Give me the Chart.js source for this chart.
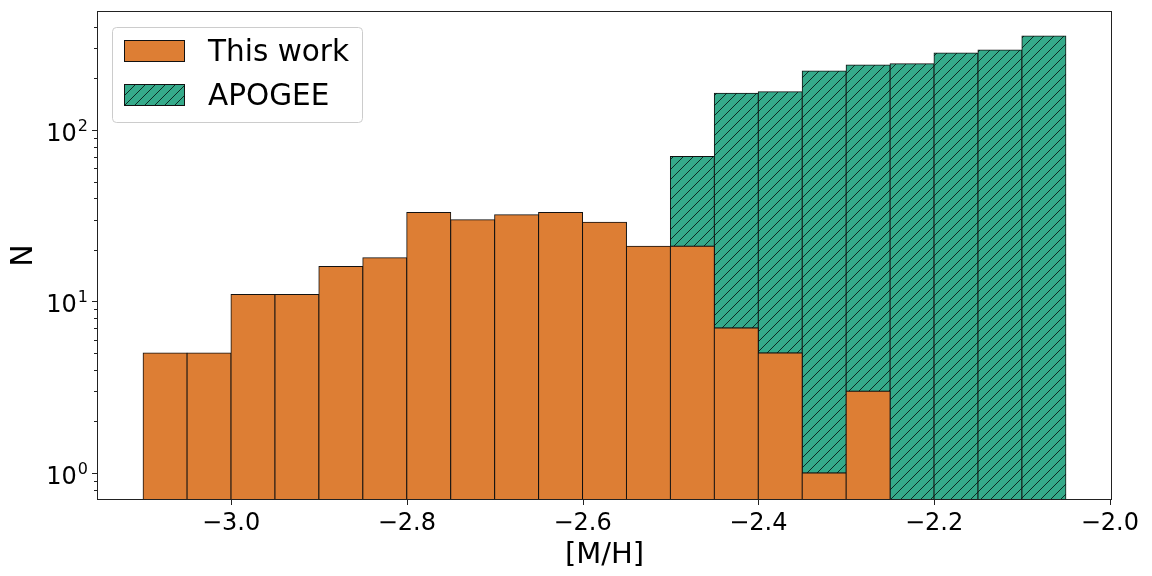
<!DOCTYPE html>
<html>
<head>
<meta charset="utf-8">
<script src="https://cdn.jsdelivr.net/npm/chart.js@4"></script>
<style>
  html, body { margin: 0; padding: 0; background: #fff; }
  #wrap { width: 1152px; height: 576px; }
</style>
</head>
<body>
<div id="wrap"><canvas id="hist" width="1152" height="576"></canvas></div>
<script>
// bin centres of the [M/H] histogram (bin width 0.05)
const binCenters = [-3.075, -3.025, -2.975, -2.925, -2.875, -2.825, -2.775, -2.725, -2.675, -2.625,
                    -2.575, -2.525, -2.475, -2.425, -2.375, -2.325, -2.275, -2.225, -2.175, -2.125, -2.075];
const thisWork = [5, 5, 11, 11, 16, 18, 33, 30, 32, 33, 29, 21, 21, 7, 5, 1, 3, null, null, null, null];
// stacked on top of "This work"
const apogee = [null, null, null, null, null, null, null, null, null, null, null, null,
                49, 157, 162, 220, 236, 243, 281, 293, 353];
const xTicks = [-3.0, -2.8, -2.6, -2.4, -2.2, -2.0];
const yTicks = [0.8, 0.9, 1, 2, 3, 4, 5, 6, 7, 8, 9, 10, 20, 30, 40, 50, 60, 70, 80, 90, 100, 200, 300, 400];
const labels = ['This work', 'APOGEE'];

const ORANGE = '#dd7e34';
const GREEN = '#35aa8a';
const FONT = "'DejaVu Sans', sans-serif";

function makeHatch(bg){
    var s = 10;
    var c = document.createElement('canvas');
    c.width = s; c.height = s;
    var g = c.getContext('2d');
    g.fillStyle = bg;
    g.fillRect(0, 0, s, s);
    g.strokeStyle = 'rgba(0,0,0,0.75)';
    g.lineWidth = 1;
    g.beginPath();
    g.moveTo(-1, s + 1); g.lineTo(s + 1, -1);
    g.moveTo(-1, 1); g.lineTo(1, -1);
    g.moveTo(s - 1, s + 1); g.lineTo(s + 1, s - 1);
    g.stroke();
    return g.createPattern(c, 'repeat');
}
const hatch = makeHatch(GREEN);

function isDecade(v){
    var l = Math.log10(v);
    return Math.abs(l - Math.round(l)) < 1e-9;
}

// tick marks, y tick labels (10^n), frame and legend
const decor = {
    id: 'decor',
    afterDraw(chart){
        var ctx = chart.ctx;
        var a = chart.chartArea;
        var xs = chart.scales.x, ys = chart.scales.y;
        ctx.save();
        ctx.strokeStyle = '#222';
        ctx.lineWidth = 1;
        ctx.strokeRect(a.left + 0.5, a.top + 0.5, a.right - a.left - 1, a.bottom - a.top - 1);
        ctx.beginPath();
        xs.ticks.forEach(t=>{
            var px = Math.round(xs.getPixelForValue(t.value)) + 0.5;
            ctx.moveTo(px, a.bottom);
            ctx.lineTo(px, a.bottom + 5);
        });
        ys.ticks.forEach(t=>{
            var py = Math.round(ys.getPixelForValue(t.value)) + 0.5;
            var len = isDecade(t.value) ? 5 : 3;
            ctx.moveTo(a.left, py);
            ctx.lineTo(a.left - len, py);
        });
        ctx.stroke();

        ctx.fillStyle = '#000';
        ctx.textAlign = 'right';
        ctx.textBaseline = 'alphabetic';
        ys.ticks.forEach(t=>{
            if (!isDecade(t.value)) return;
            var py = ys.getPixelForValue(t.value);
            var e = String(Math.round(Math.log10(t.value)));
            var right = a.left - 9;
            ctx.font = '16px ' + FONT;
            var ew = ctx.measureText(e).width;
            ctx.fillText(e, right, py + 1);
            ctx.font = '24px ' + FONT;
            ctx.fillText('10', right - ew - 1, py + 11);
        });

        // legend
        var lx = 112.5, ly = 27.5, lw = 250, lh = 95, r = 4;
        ctx.beginPath();
        ctx.moveTo(lx + r, ly);
        ctx.arcTo(lx + lw, ly, lx + lw, ly + lh, r);
        ctx.arcTo(lx + lw, ly + lh, lx, ly + lh, r);
        ctx.arcTo(lx, ly + lh, lx, ly, r);
        ctx.arcTo(lx, ly, lx + lw, ly, r);
        ctx.closePath();
        ctx.fillStyle = 'rgba(255,255,255,0.8)';
        ctx.fill();
        ctx.strokeStyle = '#cccccc';
        ctx.stroke();

        var fills = [ORANGE, hatch];
        ctx.font = '29.5px ' + FONT;
        ctx.textAlign = 'left';
        labels.forEach((lab, i)=>{
            var py = 40 + i * 44;
            ctx.fillStyle = fills[i];
            ctx.fillRect(124, py, 60, 21);
            ctx.strokeStyle = '#111';
            ctx.strokeRect(124.5, py + 0.5, 60, 21);
            ctx.fillStyle = '#000';
            ctx.fillText(lab, 208, py + 21);
        });
        ctx.restore();
    }
};

const ctx = document.getElementById('hist').getContext('2d');
const chart = new Chart(ctx, {
    type: 'bar',
    data: {
        datasets: [
            {
                label: labels[0],
                data: binCenters.map((x, i)=>({x: x, y: thisWork[i]})),
                backgroundColor: ORANGE,
                borderColor: '#111',
                borderWidth: 1,
                borderSkipped: false,
                inflateAmount: 0.5
            },
            {
                label: labels[1],
                data: binCenters.map((x, i)=>({x: x, y: apogee[i]})),
                backgroundColor: hatch,
                borderColor: '#111',
                borderWidth: 1,
                borderSkipped: false,
                inflateAmount: 0.5
            }
        ]
    },
    options: {
        responsive: false,
        animation: false,
        events: [],
        categoryPercentage: 1,
        barPercentage: 1,
        layout: { padding: { left: 0, top: 11, right: 40, bottom: 0 } },
        plugins: {
            legend: { display: false },
            tooltip: { enabled: false }
        },
        scales: {
            x: {
                type: 'linear',
                stacked: true,
                offset: false,
                min: -3.1525,
                max: -1.9975,
                afterBuildTicks: (s)=>{ s.ticks = xTicks.map(v=>({value: v})); },
                afterFit: (s)=>{ s.height = 76; s.paddingLeft = 0; s.paddingRight = 0; },
                grid: { display: false, drawTicks: false },
                border: { display: false },
                ticks: {
                    autoSkip: false,
                    maxRotation: 0,
                    padding: 9,
                    color: '#000',
                    font: { family: FONT, size: 24 },
                    callback: (v)=>v.toFixed(1).replace('-', '\u2212')
                },
                title: {
                    display: true,
                    text: '[M/H]',
                    color: '#000',
                    font: { family: FONT, size: 29 },
                    padding: { top: 0, bottom: 3 }
                }
            },
            y: {
                type: 'logarithmic',
                stacked: true,
                min: 0.696,
                max: 494,
                afterBuildTicks: (s)=>{ s.ticks = yTicks.map(v=>({value: v, major: isDecade(v)})); },
                afterFit: (s)=>{ s.width = 97; s.paddingTop = 0; s.paddingBottom = 0; },
                grid: { display: false, drawTicks: false },
                border: { display: false },
                ticks: {
                    autoSkip: false,
                    padding: 9,
                    callback: ()=>''
                },
                title: {
                    display: true,
                    text: 'N',
                    color: '#000',
                    font: { family: FONT, size: 30 },
                    padding: { top: 6, bottom: 0 }
                }
            }
        }
    },
    plugins: [decor]
});
</script>
</body>
</html>
